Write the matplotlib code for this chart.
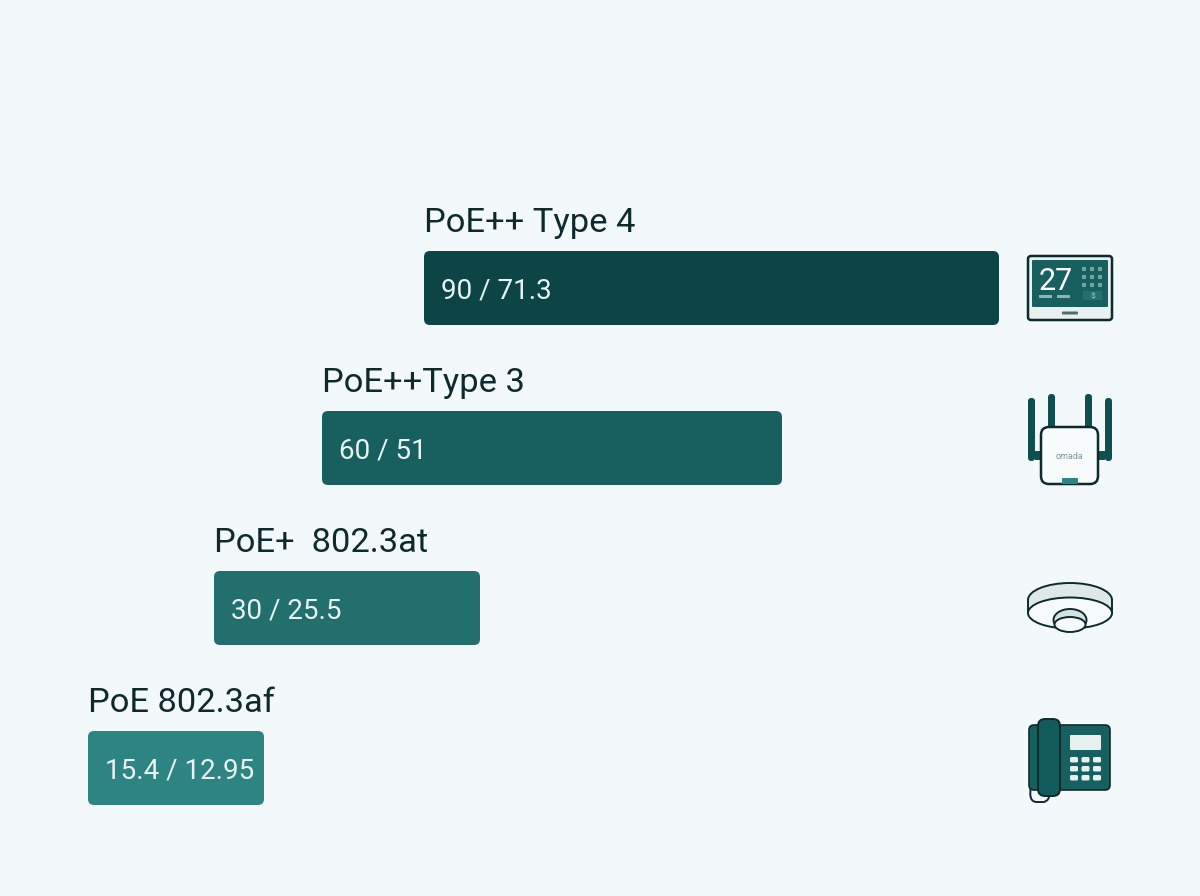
import matplotlib
matplotlib.use("Agg")
import matplotlib.pyplot as plt
from matplotlib.patches import FancyBboxPatch, Rectangle, Ellipse, PathPatch
from matplotlib.path import Path

# Data
labels = ["PoE++ Type 4", "PoE++Type 3", "PoE+  802.3at", "PoE 802.3af"]
value_labels = ["90 / 71.3", "60 / 51", "30 / 25.5", "15.4 / 12.95"]
bar_start = [424, 322, 214, 88]
bar_end = [999, 782, 480, 264]
bar_top = [251, 411, 571, 731]
bar_colors = ["#0d4547", "#17605f", "#236f6e", "#2e8482"]

BG = "#f3f8fa"
INK = "#0f2a2d"
TEAL = "#17605f"
BAR_H = 74

plt.rcParams["font.family"] = ["Roboto", "DejaVu Sans"]
fig = plt.figure(figsize=(12, 8.96), dpi=100, facecolor=BG)
ax = fig.add_axes([0, 0, 1, 1])
ax.set_xlim(0, 1200)
ax.set_ylim(896, 0)
ax.axis("off")


def rrect(x0, y0, x1, y1, r, fc, ec="none", lw=0, z=3):
    p = FancyBboxPatch((x0 + r, y0 + r), x1 - x0 - 2 * r, y1 - y0 - 2 * r,
                       boxstyle=f"round,pad={r},rounding_size={r}",
                       fc=fc, ec=ec, lw=lw, zorder=z)
    ax.add_patch(p)
    return p


for lab, val, x0, x1, top, col in zip(labels, value_labels, bar_start, bar_end, bar_top, bar_colors):
    rrect(x0, top, x1, top + BAR_H, 6, col, z=2)
    ax.text(x0, top - 19, lab, fontsize=24.8, color=INK, ha="left", va="baseline")
    ax.text(x0 + 17, top + 48, val, fontsize=20, color="#e8f3f2", ha="left", va="baseline")

# Tablet
rrect(1028, 256, 1112, 320, 3, "#e9f0f0", INK, 1.8)
rrect(1032, 260, 1108, 307, 1, TEAL)
ax.text(1039, 290, "27", fontsize=22, color="white", ha="left", va="baseline", zorder=4)
for bx in (1039, 1057):
    ax.add_patch(Rectangle((bx, 295), 13, 3.5, fc="#8fb5b1", zorder=4))
for dy in (269, 277, 285):
    for dx in (1084, 1092, 1100):
        ax.add_patch(Rectangle((dx - 2, dy - 2), 4, 4, fc="#6fa5a0", zorder=4))
ax.add_patch(Rectangle((1083, 291), 19, 9, fc="#24706e", zorder=4))
ax.text(1092.5, 298.5, "$", fontsize=6, color="#a9cbc8", ha="center", va="baseline", zorder=5)
rrect(1062, 311.5, 1078, 314.5, 1, "#47706f")

# Router
ANT = "#0f4f50"
for x0, x1, y0, y1 in [(1028, 1035, 398, 461), (1048, 1055, 394, 432),
                       (1085, 1092, 394, 432), (1105, 1112, 398, 461)]:
    rrect(x0, y0, x1, y1, 3.4, ANT, z=3)
for x0, x1 in [(1035, 1042), (1098, 1105)]:
    ax.add_patch(Rectangle((x0, 451), x1 - x0, 9, fc=ANT, zorder=3))
rrect(1041, 427, 1098, 484, 8, "#f7fbfb", INK, 1.8, z=4)
ax.text(1069.5, 459, "omada", fontsize=6.5, color="#7f9a9a", ha="center", va="baseline", zorder=5)
rrect(1062, 478, 1078, 484, 1, "#2e8482", z=5)

# Dome camera
ax.add_patch(Ellipse((1070, 600), 84, 34, fc="#dde8e7", ec=INK, lw=1.4, zorder=3))
ax.add_patch(Rectangle((1028, 600), 84, 13, fc="#dde8e7", ec="none", zorder=3))
ax.plot([1028, 1028], [600, 613], color=INK, lw=1.4, zorder=4)
ax.plot([1112, 1112], [600, 613], color=INK, lw=1.4, zorder=4)
ax.add_patch(Ellipse((1070, 613), 84, 31, fc="#f6fafa", ec=INK, lw=1.4, zorder=4))
ax.add_patch(Ellipse((1070, 620), 33, 22, fc="#d5e2e1", ec=INK, lw=1.4, zorder=5))
ax.add_patch(Ellipse((1070, 624.5), 31, 15, fc="#f6fafa", ec=INK, lw=1.4, zorder=6))

# Desk phone
cord = Path([(1031, 786), (1028, 801), (1036, 802), (1044, 802), (1050, 800), (1049, 794)],
            [Path.MOVETO, Path.CURVE3, Path.CURVE3, Path.LINETO, Path.CURVE3, Path.CURVE3])
ax.add_patch(PathPatch(cord, fc="none", ec=INK, lw=1.4, zorder=2))
rrect(1029, 725, 1110, 790, 5, TEAL, INK, 1.2)
rrect(1038, 719, 1060, 796, 7, "#145c5b", INK, 1.4, z=4)
rrect(1070, 735, 1101, 750, 1, "#e6f0ef", z=4)
for ky in (757, 766, 775):
    for kx in (1070, 1081.5, 1093):
        rrect(kx, ky, kx + 8, ky + 5.5, 1.5, "#e6f0ef", z=4)

fig.savefig("out.png", dpi=100, facecolor=BG)
